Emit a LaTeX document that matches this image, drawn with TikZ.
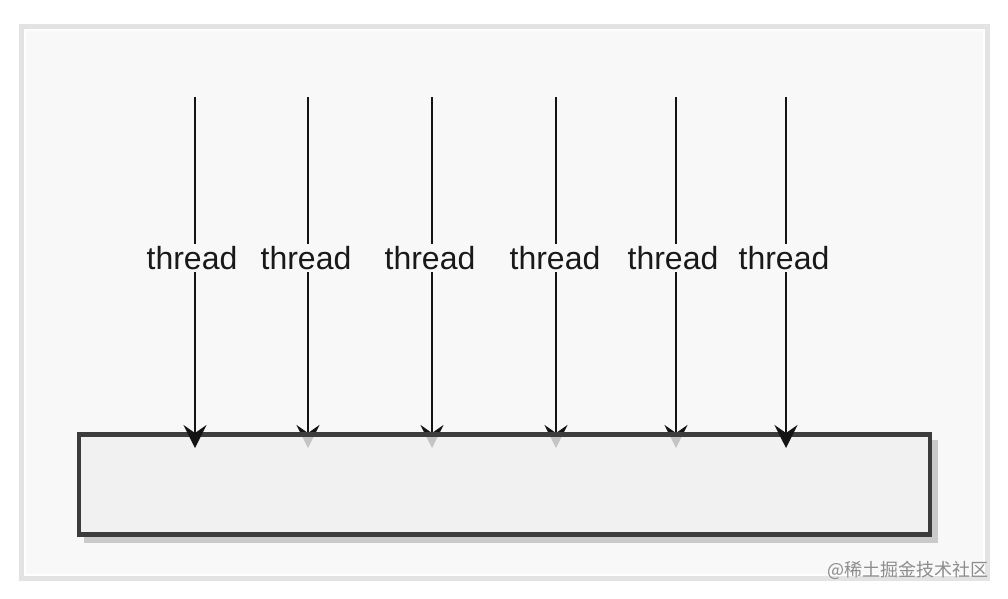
\documentclass[tikz,border=0pt]{standalone}
\usepackage{fontspec}
\setmainfont{Liberation Sans}
\newfontfamily\cjk{Noto Sans CJK SC}
\usetikzlibrary{arrows.meta}
\definecolor{bgfill}{HTML}{F8F8F8}
\definecolor{frameg}{HTML}{E3E3E3}
\definecolor{boxfill}{HTML}{F1F1F1}
\definecolor{boxline}{HTML}{3C3C3C}
\definecolor{shadowg}{HTML}{CACACA}
\tikzset{
  thr/.style={draw=black!92, line width=2.2pt, -{Stealth[length=23pt,width=23pt,inset=8pt]}},
  lbl/.style={fill=bgfill, inner sep=2pt, font=\fontsize{32}{36}\selectfont, text=black!90},
  boxshape/.style={minimum width=851pt, minimum height=100pt, inner sep=0pt}
}
\begin{document}
\begin{tikzpicture}[x=1pt,y=-1pt]
\useasboundingbox (0,0) rectangle (1008,598);
\fill[white] (0,0) rectangle (1008,598);
% outer frame
\fill[frameg] (19,24) rectangle (990,581);
\fill[white] (24,29) rectangle (985,576);
\fill[bgfill] (26,31) rectangle (983,574);
% arrow coordinates
\foreach \n/\x in {1/195,2/308,3/432,4/556,5/676,6/786}{
  \coordinate (s\n) at (\x,97);
  \coordinate (e\n) at (\x,448);
}
% box shadow and solid box fill
\fill[shadowg] (84,440) rectangle (938,543);
\node[boxshape, fill=boxfill] (boxbg) at (504.5,484.5) {};
% arrows behind the box
\foreach \n in {2,3,4,5}{
  \draw[thr] (s\n) -- (e\n);
}
% box (translucent cover and border)
\node[boxshape, draw=boxline, line width=4.5pt, fill=boxfill, fill opacity=0.8, draw opacity=1] (box) at (504.5,484.5) {};
% arrows in front of the box
\foreach \n in {1,6}{
  \draw[thr] (s\n) -- (e\n);
}
% labels
\node[lbl] (l1) at (192,258) {thread};
\node[lbl] (l2) at (306,258) {thread};
\node[lbl] (l3) at (430,258) {thread};
\node[lbl] (l4) at (555,258) {thread};
\node[lbl] (l5) at (673,258) {thread};
\node[lbl] (l6) at (784,258) {thread};
% watermark
\node[anchor=east, text=black!45, font=\cjk\fontsize{18}{20}\selectfont, inner sep=0pt] (wm) at (989,570) {@稀土掘金技术社区};
\end{tikzpicture}
\end{document}
